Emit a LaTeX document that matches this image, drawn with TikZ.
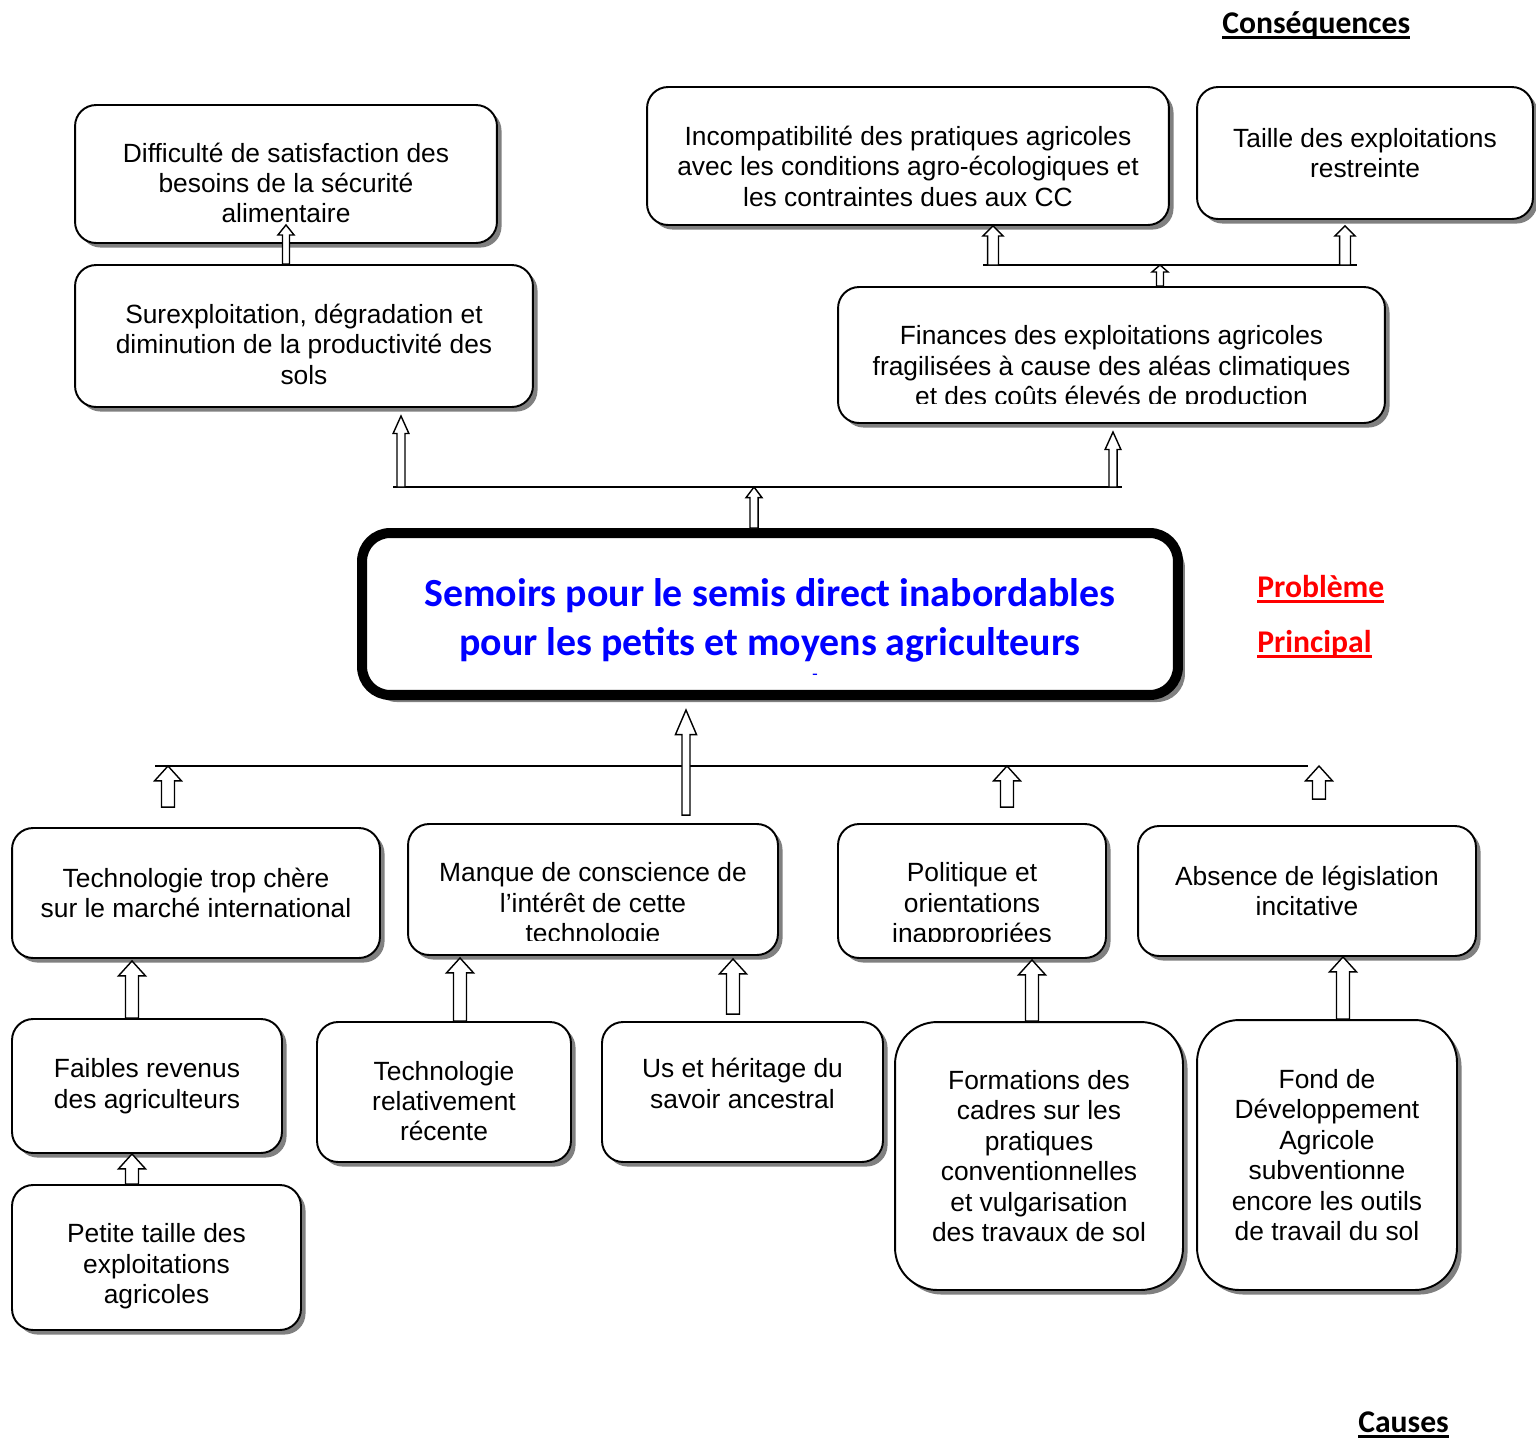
\documentclass[tikz,border=0pt]{standalone}
\usepackage{fontspec}
\setmainfont{Liberation Sans}
\newfontfamily\calibri{Carlito}
\usetikzlibrary{shadows, calc}

% underlined headings with a thicker rule
\newcommand{\ulined}[1]{\setbox0\hbox{#1}\rlap{\rule[-3.2pt]{\wd0}{1.3pt}}\box0}
% invisible strut: a taller first line pushes the text down in its box
\newcommand{\toppad}[1]{\rule{0pt}{#1}}

% hollow block arrow pointing up, from #2 (foot) to #3 (tip)
\newcommand{\shaftw}{3.7pt}
\newcommand{\headw}{7.7pt}
\newcommand{\headl}{8.5pt}
\newcommand{\blockarrow}[3][]{%
  \draw[hollow,#1] let \p1=#2, \p2=#3 in
    (\x1-\shaftw,\y1) -- (\x1-\shaftw,\y2-\headl) -- (\x1-\headw,\y2-\headl)
    -- (\x1,\y2) -- (\x1+\headw,\y2-\headl) -- (\x1+\shaftw,\y2-\headl)
    -- (\x1+\shaftw,\y1) -- cycle;}

\begin{document}
\begin{tikzpicture}[
    x=0.02cm, y=-0.02cm,
    box/.style={draw, line width=1.1pt, rounded corners=12pt, fill=white, align=center,
        inner sep=2pt, font=\fontsize{15}{17.35}\selectfont,
        drop shadow={shadow xshift=2.6pt, shadow yshift=-2.6pt, opacity=1, fill=black!50}},
    tallbox/.style={box, rounded corners=24pt},
    % deeper last line pushes the text up
    padbottom/.style={execute at end node={\rule[-#1]{0pt}{1pt}}},
    probbox/.style={draw, line width=5.7pt, rounded corners=16pt, fill=white, align=center,
        text=blue, font=\calibri\bfseries\fontsize{22.7}{27.9}\selectfont,
        drop shadow={shadow xshift=4pt, shadow yshift=-4pt, opacity=1, fill=black!50}},
    tag/.style={inner sep=0pt, anchor=base west, font=\calibri\bfseries\fontsize{18}{22}\selectfont},
    hollow/.style={draw, fill=white, line width=0.8pt},
    narrow/.style={/utils/exec={\def\shaftw{2.3pt}\def\headw{4.5pt}\def\headl{10pt}}},
    small/.style={/utils/exec={\def\shaftw{2pt}\def\headw{4.6pt}\def\headl{5.7pt}}},
    bar/.style={line width=1.1pt}
]
    \useasboundingbox (0,0) rectangle (1536,1438);

    % Headings
    \node[tag] (consequences) at (1222,33) {\ulined{Conséquences}};
    \node[tag] (causes) at (1358,1432) {\ulined{Causes}};
    \node[tag, text=red] (probleme) at (1257,597) {\ulined{Problème}};
    \node[tag, text=red] (principal) at (1257,652) {\ulined{Principal}};

    % Main problem
    \node[probbox, minimum width=16.32cm, minimum height=3.24cm] (prob) at (770,614)
        {\toppad{23pt}Semoirs pour le semis direct inabordables\\pour les petits et moyens agriculteurs};
    \node[text=blue, inner sep=0pt, font=\fontsize{10}{10}\selectfont] (dash) at (815,677) {-};

    % Consequences
    \node[box, minimum width=8.44cm, minimum height=2.76cm] (diff) at (286,174)
        {\toppad{21.2pt}Difficulté de satisfaction des\\besoins de la sécurité\\alimentaire};
    \node[box, minimum width=9.16cm, minimum height=2.84cm] (surexp) at (304,336)
        {\toppad{20.2pt}Surexploitation, dégradation et\\diminution de la productivité des\\sols};
    \node[box, minimum width=10.44cm, minimum height=2.76cm] (incompat) at (908,156)
        {\toppad{22.4pt}Incompatibilité des pratiques agricoles\\avec les conditions agro-écologiques et\\les contraintes dues aux CC};
    \node[box, minimum width=6.72cm, minimum height=2.64cm] (taille) at (1365,153)
        {Taille des exploitations\\restreinte};
    \node[box, minimum width=10.94cm, minimum height=2.72cm] (finances) at (1111.5,355)
        {\toppad{26pt}Finances des exploitations agricoles\\fragilisées à cause des aléas climatiques\\et des coûts élevés de production};

    % Causes, first row
    \node[box, minimum width=7.36cm, minimum height=2.6cm] (cherte) at (196,893)
        {Technologie trop chère\\sur le marché international};
    \node[box, minimum width=7.4cm, minimum height=2.62cm] (manque) at (593,889.5)
        {\toppad{29pt}Manque de conscience de\\l’intérêt de cette\\technologie};
    \node[box, minimum width=5.36cm, minimum height=2.68cm] (politique) at (972,891)
        {\toppad{27.5pt}Politique et\\orientations\\inappropriées};
    \node[box, minimum width=6.76cm, minimum height=2.6cm] (legislation) at (1307,891)
        {Absence de législation\\incitative};

    % Causes, second row
    \node[box, minimum width=5.4cm, minimum height=2.68cm] (revenus) at (147,1086)
        {Faibles revenus\\des agriculteurs};
    \node[box, minimum width=5.08cm, minimum height=2.8cm] (recente) at (444,1092)
        {\toppad{21.2pt}Technologie\\relativement\\récente};
    \node[box, padbottom=10pt, minimum width=5.62cm, minimum height=2.8cm] (heritage) at (742.5,1092)
        {Us et héritage du\\savoir ancestral};
    \node[tallbox, minimum width=5.76cm, minimum height=5.36cm] (formations) at (1039,1156)
        {Formations des\\cadres sur les\\pratiques\\conventionnelles\\et vulgarisation\\des travaux de sol};
    \node[tallbox, minimum width=5.2cm, minimum height=5.4cm] (fonds) at (1327,1155)
        {Fond de\\Développement\\Agricole\\subventionne\\encore les outils\\de travail du sol};
    \node[box, minimum width=5.78cm, minimum height=2.9cm] (petite) at (156.5,1257.5)
        {\toppad{21.2pt}Petite taille des\\exploitations\\agricoles};

    % last lines cut short at the bottom of their frames
    \fill[white] ($(finances.south west)+(24,-3)$) rectangle ($(finances.south east)+(-24,-20)$);
    \fill[white] ($(manque.south west)+(22,-3)$) rectangle ($(manque.south east)+(-22,-15)$);
    \fill[white] ($(politique.south west)+(22,-4)$) rectangle ($(politique.south east)+(-22,-17)$);

    % Bars
    \coordinate (conbar w) at (983,265);
    \coordinate (conbar e) at (1357,265);
    \coordinate (topbar w) at (393,487);
    \coordinate (topbar e) at (1122,487);
    \coordinate (lowbar w) at (155,766);
    \coordinate (lowbar e) at (1308,766);
    \draw[bar] (conbar w) -- (conbar e);
    \draw[bar] (topbar w) -- (topbar e);
    \draw[bar] (lowbar w) -- (lowbar e);

    % Arrows towards the consequences
    \blockarrow[small]{(diff.south |- surexp.north)}{($(diff.south)+(0,-19)$)}
    \blockarrow[small, /utils/exec={\def\headl{4pt}}]{(finances.north -| 1160,0)}{(conbar w -| 1160,0)}
    \blockarrow[small, /utils/exec={\def\shaftw{3.1pt}\def\headw{5.7pt}}]{(conbar w -| 993,0)}{(incompat.south -| 993,0)}
    \blockarrow[small, /utils/exec={\def\shaftw{3.1pt}\def\headw{5.7pt}}]{(conbar e -| 1345,0)}{($(taille.south -| 1345,0)+(0,6)$)}
    \blockarrow[narrow, /utils/exec={\def\headl{6pt}}]{(prob.north -| 754,0)}{(topbar w -| 754,0)}
    \blockarrow[narrow]{(topbar w -| 401,0)}{($(surexp.south -| 401,0)+(0,8)$)}
    \blockarrow[narrow]{(topbar e -| 1113,0)}{($(finances.south -| 1113,0)+(0,8)$)}

    % Arrows from the causes
    \blockarrow[narrow, /utils/exec={\def\headw{6pt}\def\headl{14pt}}]{($(manque.north -| 686,0)+(0,-8)$)}{($(prob.south -| 686,0)+(0,10)$)}
    \blockarrow{($(cherte.north -| 168,0)+(0,-20)$)}{(lowbar w -| 168,0)}
    \blockarrow{($(politique.north -| 1007,0)+(0,-16)$)}{(lowbar w -| 1007,0)}
    \blockarrow{($(legislation.north -| 1319,0)+(0,-26)$)}{(lowbar e -| 1319,0)}
    \blockarrow{(revenus.north -| 132,0)}{($(cherte.south -| 132,0)+(0,2)$)}
    \blockarrow{(recente.north -| 460,0)}{($(manque.south -| 460,0)+(0,2)$)}
    \blockarrow{($(heritage.north -| 733,0)+(0,-7)$)}{($(manque.south -| 733,0)+(0,3)$)}
    \blockarrow{(formations.north -| 1032,0)}{($(politique.south -| 1032,0)+(0,1)$)}
    \blockarrow{(fonds.north -| 1343,0)}{(legislation.south -| 1343,0)}
    \blockarrow{(petite.north -| 132,0)}{(revenus.south -| 132,0)}
\end{tikzpicture}
\end{document}
